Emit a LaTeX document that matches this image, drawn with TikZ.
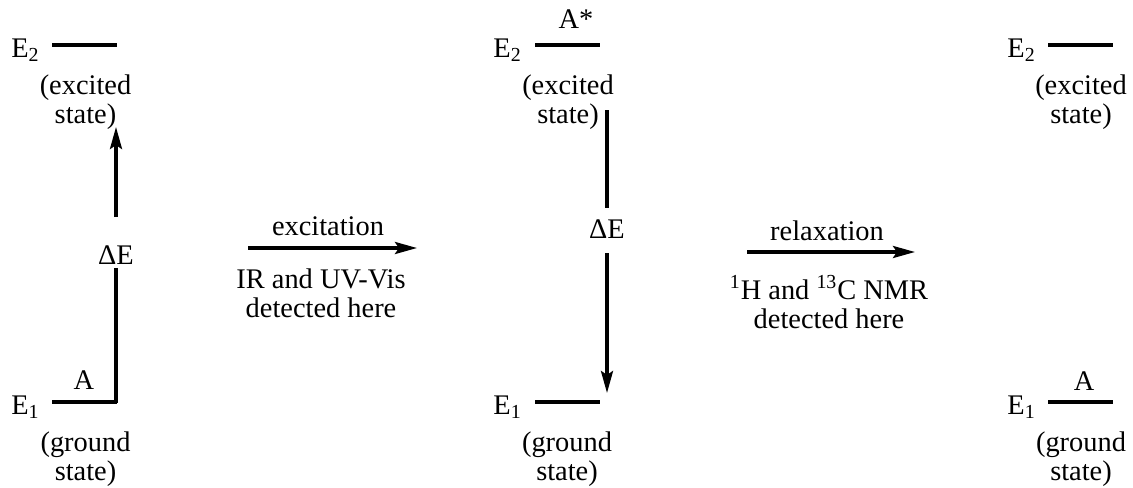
\documentclass[tikz,border=0pt]{standalone}
\usepackage{fontspec}
\setmainfont{Liberation Serif}
\usepackage{tikz}
\usetikzlibrary{arrows.meta}

\begin{document}
\begin{tikzpicture}[x=0.5pt, y=-0.5pt,
        level/.style={line width=1.7pt},
        trans/.style={line width=1.7pt},
        tip/.style={-{Stealth[length=11pt, width=6pt, inset=2pt]}},
        lbl/.style={inner sep=0pt, align=center}]
        \tikzstyle{every node}=[font=\fontsize{14.2}{14.5}\selectfont]
        \useasboundingbox (0,0) rectangle (1133,487);

        % Left: A in the ground state
        \node[lbl, anchor=base west] (eTwoL) at (11,57) {E\textsubscript{2}};
        \coordinate (topLa) at (52,45);
        \coordinate (topLb) at (117,45);
        \draw[level] (topLa) -- (topLb);
        \node[lbl] (excL) at (85.5,102) {(excited\\state)};

        \node[lbl, anchor=base west] (eOneL) at (11,414) {E\textsubscript{1}};
        \coordinate (botLa) at (52,402);
        \coordinate (botLb) at (117,402);
        \draw[level] (botLa) -- (botLb);
        \node[lbl, anchor=base] (molL) at (84,389) {A};
        \node[lbl] (gndL) at (85.5,459) {(ground\\state)};

        % absorption of Delta E
        \node[lbl, anchor=base] (dEL) at (116,264) {ΔE};
        \coordinate (upFrom) at (116,403);
        \coordinate (upGapA) at (116,268);
        \coordinate (upGapB) at (116,217);
        \coordinate (upTip) at (116,127);
        \draw[trans] (upFrom) -- (upGapA);
        \draw[trans, tip] (upGapB) -- (upTip);

        % excitation
        \coordinate (exFrom) at (248,248);
        \coordinate (exTo) at (417,248);
        \draw[trans, tip] (exFrom) -- (exTo);
        \node[lbl, anchor=base] (exTop) at (328,235) {excitation};
        \node[lbl] (exBot) at (321,293) {IR and UV-Vis\\detected here};

        % Middle: A* in the excited state
        \node[lbl, anchor=base west] (eTwoM) at (493,57) {E\textsubscript{2}};
        \coordinate (topMa) at (535,45);
        \coordinate (topMb) at (600,45);
        \draw[level] (topMa) -- (topMb);
        \node[lbl, anchor=base] (molM) at (576,28) {A*};
        \node[lbl] (excM) at (568,102) {(excited\\state)};

        \node[lbl, anchor=base west] (eOneM) at (493,414) {E\textsubscript{1}};
        \coordinate (botMa) at (535,402);
        \coordinate (botMb) at (600,402);
        \draw[level] (botMa) -- (botMb);
        \node[lbl] (gndM) at (567,459) {(ground\\state)};

        % emission of Delta E
        \node[lbl, anchor=base] (dEM) at (607,238) {ΔE};
        \coordinate (dnFrom) at (607,110);
        \coordinate (dnGapA) at (607,208);
        \coordinate (dnGapB) at (607,253);
        \coordinate (dnTip) at (607,393);
        \draw[trans] (dnFrom) -- (dnGapA);
        \draw[trans, tip] (dnGapB) -- (dnTip);

        % relaxation
        \coordinate (rlFrom) at (747,252);
        \coordinate (rlTo) at (915,252);
        \draw[trans, tip] (rlFrom) -- (rlTo);
        \node[lbl, anchor=base] (rlTop) at (827,240) {relaxation};
        \node[lbl] (rlBot) at (829,302) {\textsuperscript{1}H and \textsuperscript{13}C NMR\\detected here};

        % Right: back to A in the ground state
        \node[lbl, anchor=base west] (eTwoR) at (1007,57) {E\textsubscript{2}};
        \coordinate (topRa) at (1048,45);
        \coordinate (topRb) at (1113,45);
        \draw[level] (topRa) -- (topRb);
        \node[lbl] (excR) at (1081,102) {(excited\\state)};

        \node[lbl, anchor=base west] (eOneR) at (1007,414) {E\textsubscript{1}};
        \coordinate (botRa) at (1048,402);
        \coordinate (botRb) at (1113,402);
        \draw[level] (botRa) -- (botRb);
        \node[lbl, anchor=base] (molR) at (1084,390) {A};
        \node[lbl] (gndR) at (1081,459) {(ground\\state)};
\end{tikzpicture}
\end{document}
